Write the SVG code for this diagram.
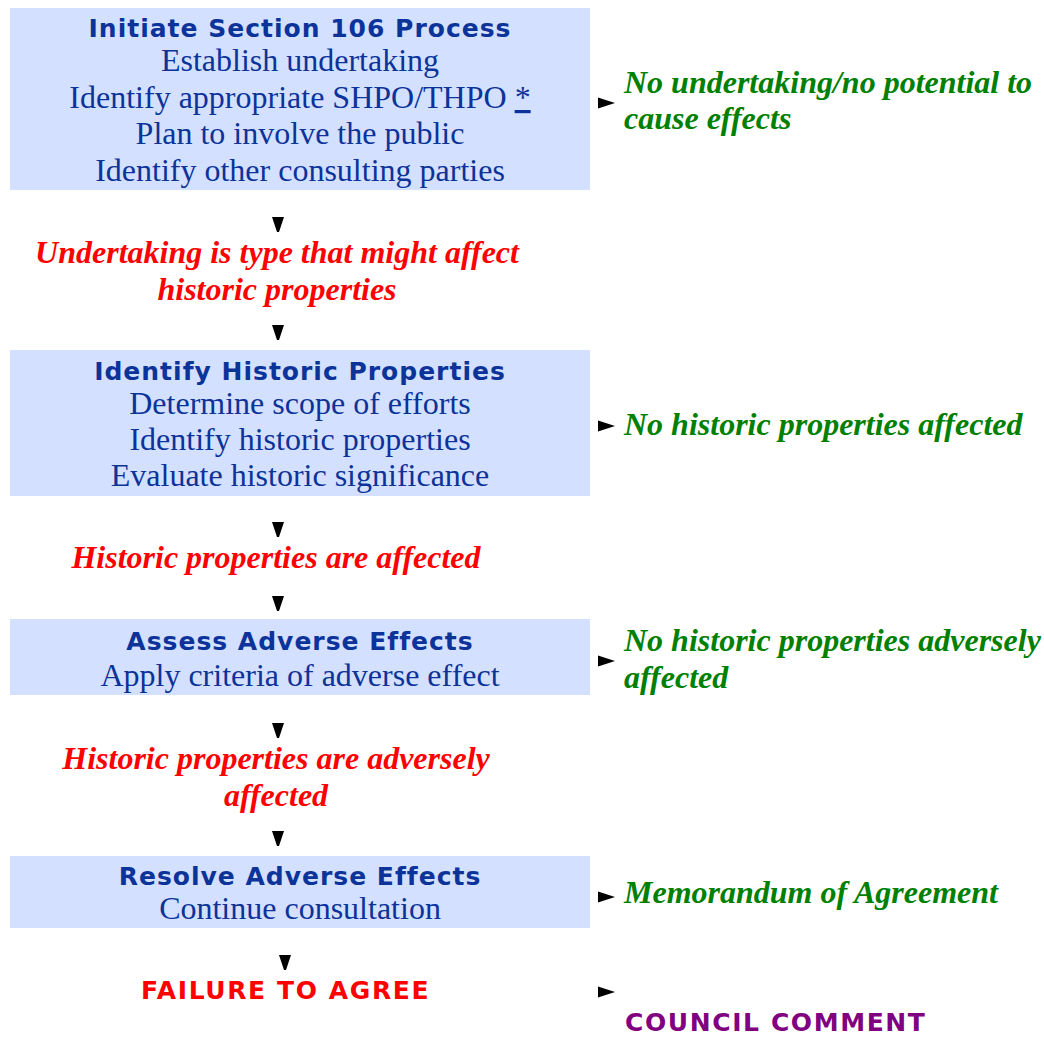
<svg xmlns="http://www.w3.org/2000/svg" width="1044" height="1038" viewBox="0 0 1044 1038">
<style>
.box{fill:#d4e0ff}
.ttl{font-family:"DejaVu Sans",Verdana,sans-serif;font-weight:bold;font-size:25px;fill:#0b3399;text-anchor:middle;letter-spacing:1px}
.bd{font-family:"Liberation Serif","Times New Roman",serif;font-size:32px;fill:#0b3399;text-anchor:middle}
.red{font-family:"Liberation Serif","Times New Roman",serif;font-size:32px;font-weight:bold;font-style:italic;fill:#ff0000;text-anchor:middle}
.grn{font-family:"Liberation Serif","Times New Roman",serif;font-size:32px;font-weight:bold;font-style:italic;fill:#008000}
.caps{font-family:"DejaVu Sans",Verdana,sans-serif;font-weight:bold;font-size:25px;letter-spacing:1.6px}
.ar{fill:#000}
</style>
<defs>
<path id="dn" d="M-6,0 L6,0 L1,15 L-1,15 Z"/>
<path id="rt" d="M0,-5.5 L17,0 L0,5.5 Z"/>
</defs>
<g id="n1">
<rect class="box" x="10" y="8" width="580" height="182"/>
<text class="ttl" x="300" y="37">Initiate Section 106 Process</text>
<text class="bd" x="300" y="71">Establish undertaking</text>
<text class="bd" x="300" y="108">Identify appropriate SHPO/THPO <tspan text-decoration="underline">*</tspan></text>
<text class="bd" x="300" y="144">Plan to involve the public</text>
<text class="bd" x="300" y="181">Identify other consulting parties</text>
</g>
<g id="o1"><text class="grn" x="624" y="93">No undertaking/no potential to</text><text class="grn" x="624" y="129">cause effects</text></g>
<g id="c1"><text class="red" x="277" y="263">Undertaking is type that might affect</text><text class="red" x="277" y="300">historic properties</text></g>
<g id="n2">
<rect class="box" x="10" y="350" width="580" height="146"/>
<text class="ttl" x="300" y="380">Identify Historic Properties</text>
<text class="bd" x="300" y="414">Determine scope of efforts</text>
<text class="bd" x="300" y="450">Identify historic properties</text>
<text class="bd" x="300" y="486">Evaluate historic significance</text>
</g>
<g id="o2"><text class="grn" x="624" y="435">No historic properties affected</text></g>
<g id="c2"><text class="red" x="276" y="568">Historic properties are affected</text></g>
<g id="n3">
<rect class="box" x="10" y="619" width="580" height="76"/>
<text class="ttl" x="300" y="650">Assess Adverse Effects</text>
<text class="bd" x="300" y="686">Apply criteria of adverse effect</text>
</g>
<g id="o3"><text class="grn" x="624" y="651">No historic properties adversely</text><text class="grn" x="624" y="688">affected</text></g>
<g id="c3"><text class="red" x="276" y="769">Historic properties are adversely</text><text class="red" x="276" y="806">affected</text></g>
<g id="n4">
<rect class="box" x="10" y="856" width="580" height="72"/>
<text class="ttl" x="300" y="885">Resolve Adverse Effects</text>
<text class="bd" x="300" y="919">Continue consultation</text>
</g>
<g id="o4"><text class="grn" x="624" y="903">Memorandum of Agreement</text></g>
<g id="f"><text class="caps" x="141" y="999" fill="#ff0000">FAILURE TO AGREE</text></g>
<g id="cc"><text class="caps" x="625" y="1031" fill="#800080">COUNCIL COMMENT</text></g>
<g id="connectors" class="ar">
<use href="#dn" x="278" y="217"/>
<use href="#dn" x="278" y="325"/>
<use href="#dn" x="278" y="522"/>
<use href="#dn" x="278" y="596"/>
<use href="#dn" x="278" y="723"/>
<use href="#dn" x="278" y="831"/>
<use href="#dn" x="285" y="955"/>
<use href="#rt" x="598" y="103"/>
<use href="#rt" x="598" y="426"/>
<use href="#rt" x="598" y="661"/>
<use href="#rt" x="598" y="897"/>
<use href="#rt" x="598" y="992"/>
</g>
</svg>
